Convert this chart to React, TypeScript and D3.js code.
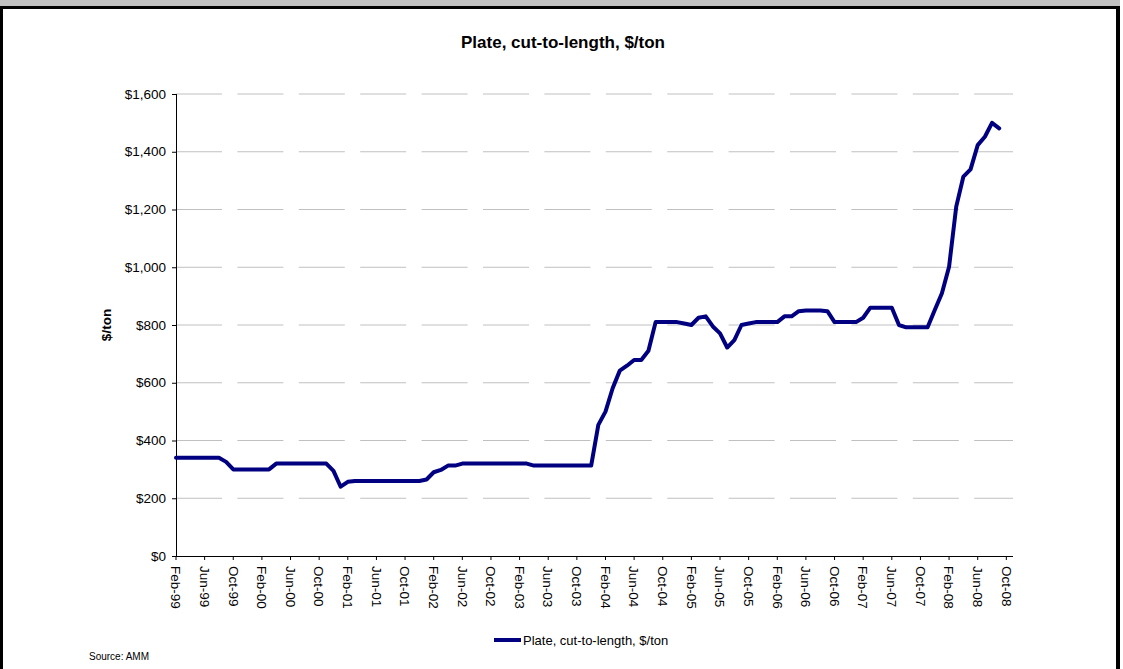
import React from "react";
import * as d3 from "d3";

// Categories: monthly, Feb-99 .. Nov-08 (last category has no value)
const categories: string[] = d3
  .timeMonth.range(new Date(1999, 1, 1), new Date(2008, 11, 1))
  .map(d3.timeFormat("%b-%y"));

const tickLabels: string[] = [
  "Feb-99", "Jun-99", "Oct-99", "Feb-00", "Jun-00", "Oct-00",
  "Feb-01", "Jun-01", "Oct-01", "Feb-02", "Jun-02", "Oct-02",
  "Feb-03", "Jun-03", "Oct-03", "Feb-04", "Jun-04", "Oct-04",
  "Feb-05", "Jun-05", "Oct-05", "Feb-06", "Jun-06", "Oct-06",
  "Feb-07", "Jun-07", "Oct-07", "Feb-08", "Jun-08", "Oct-08",
];

const yTicks: number[] = [0, 200, 400, 600, 800, 1000, 1200, 1400, 1600];

const plateValues: number[] = [
  // 1999 Feb-Dec
  340, 340, 340, 340, 340, 340, 340, 326, 300, 300, 300,
  // 2000
  300, 300, 300, 320, 320, 320, 320, 320, 320, 320, 320, 295,
  // 2001
  240, 257, 260, 260, 260, 260, 260, 260, 260, 260, 260, 260,
  // 2002
  265, 290, 298, 313, 313, 320, 320, 320, 320, 320, 320, 320,
  // 2003
  320, 320, 320, 313, 313, 313, 313, 313, 313, 313, 313,
  // 2004 Jan..
  313, 454, 500, 581, 642, 659, 679, 679, 711, 810, 810, 810,
  // 2005
  810, 805, 800, 825, 830, 795, 771, 722, 748, 800, 805, 810,
  // 2006
  810, 810, 810, 830, 830, 848, 850, 850, 850, 848, 810, 810,
  // 2007
  810, 810, 825, 860, 860, 860, 860, 800, 792, 792, 792, 792,
  // 2008 Jan-Oct
  852, 910, 1002, 1210, 1314, 1339, 1423, 1452, 1500, 1481,
];

const seriesName = "Plate, cut-to-length, $/ton";

export default function App() {
  const W = 1123;
  const H = 669;
  const x = d3.scalePoint<string>().domain(categories).range([176, 1013.5]);
  const y = d3.scaleLinear().domain([0, 1600]).range([556, 94]);

  const data = categories.map((c, i) => ({
    c,
    v: i < plateValues.length ? plateValues[i] : null,
  }));
  const line = d3
    .line<{ c: string; v: number | null }>()
    .defined((d) => d.v !== null)
    .x((d) => x(d.c) as number)
    .y((d) => y(d.v as number));

  const font = "'Liberation Sans', Arial, sans-serif";
  const x0 = 176;
  const x1 = 1013;

  return (
    <svg
      width={W}
      height={H}
      style={{ position: "absolute", left: 0, top: 0, background: "#fff" }}
      fontFamily={font}
    >
      {/* frame */}
      <rect x={0} y={0} width={W} height={H} fill="#fff" />
      <rect x={0} y={0} width={1120} height={6} fill="#c0c0c0" />
      <rect x={0} y={6} width={1120} height={3} fill="#000" />
      <rect x={0} y={6} width={3} height={H - 6} fill="#000" />
      <rect x={1116} y={6} width={4} height={H - 6} fill="#000" />

      {/* title */}
      <text x={563} y={48} textAnchor="middle" fontWeight="bold" fontSize={17}>
        {seriesName}
      </text>

      {/* gridlines */}
      {yTicks
        .filter((t) => t > 0)
        .map((t) => (
          <line
            key={"g" + t}
            x1={x0}
            x2={x1}
            y1={y(t)}
            y2={y(t)}
            stroke="#c0c0c0"
            strokeWidth={1}
            strokeDasharray="46 15.4"
          />
        ))}

      {/* y axis */}
      <line x1={x0 + 0.5} x2={x0 + 0.5} y1={y(1600)} y2={y(0)} stroke="#000" strokeWidth={1} />
      {yTicks.map((t) => (
        <g key={"yt" + t}>
          <line x1={x0 - 4} x2={x0} y1={y(t) + 0.5} y2={y(t) + 0.5} stroke="#000" strokeWidth={1} />
          <text
            x={166}
            y={y(t)}
            dy="0.35em"
            textAnchor="end"
            fontSize={13.5}
            fill="#000"
          >
            {d3.format("$,")(t)}
          </text>
        </g>
      ))}
      <text
        transform={`translate(106, ${325}) rotate(-90)`}
        textAnchor="middle"
        dy="0.35em"
        fontWeight="bold"
        fontSize={13.5}
      >
        $/ton
      </text>

      {/* x axis */}
      <line x1={x0} x2={x1} y1={556.5} y2={556.5} stroke="#000" strokeWidth={1} />
      {tickLabels.map((lbl) => {
        const px = x(lbl) as number;
        return (
          <g key={"xt" + lbl}>
            <line x1={px} x2={px} y1={556} y2={560} stroke="#000" strokeWidth={1} />
            <text
              transform={`translate(${px}, 566) rotate(90)`}
              textAnchor="start"
              dy="0.35em"
              fontSize={13.5}
              fill="#000"
            >
              {lbl}
            </text>
          </g>
        );
      })}

      {/* series */}
      <path
        d={line(data) || ""}
        fill="none"
        stroke="#000080"
        strokeWidth={4}
        strokeLinejoin="round"
        strokeLinecap="round"
      />

      {/* legend */}
      <line x1={494} x2={521} y1={640} y2={640} stroke="#000080" strokeWidth={4} />
      <text x={523} y={640} dy="0.35em" fontSize={13} fill="#000">
        {seriesName}
      </text>

      {/* source */}
      <text x={89} y={656} dy="0.35em" fontSize={10} fill="#000">
        Source: AMM
      </text>
    </svg>
  );
}
